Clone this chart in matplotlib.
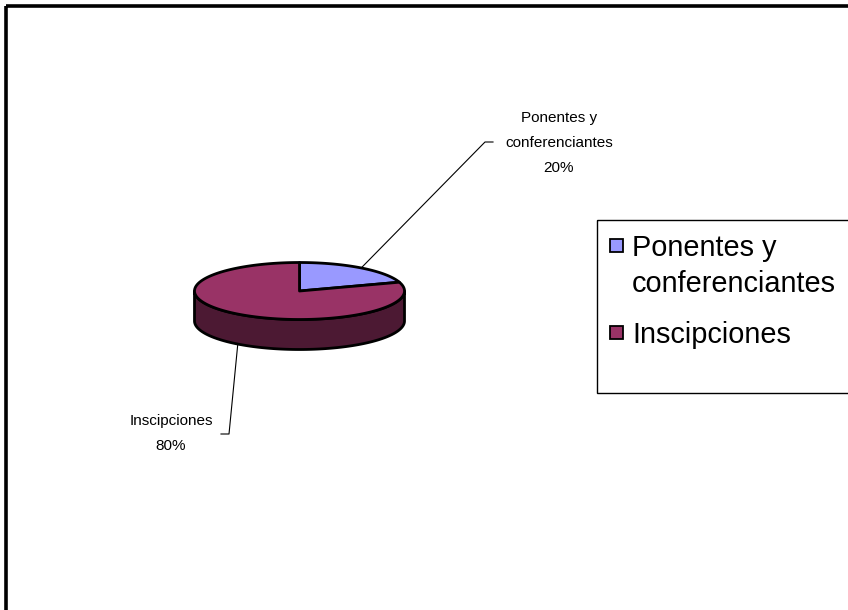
import numpy as np
import matplotlib
matplotlib.use("Agg")
import matplotlib.pyplot as plt
from matplotlib.patches import Polygon, Rectangle

# ---- data ----
categories = ["Ponentes y\nconferenciantes", "Inscipciones"]
values = [20, 80]
colors = ["#9999FF", "#993366"]
side_colors = ["#4C4C80", "#4C1933"]

plt.rcParams['font.family'] = ['Liberation Sans', 'DejaVu Sans']

W, H = 848, 610
fig = plt.figure(figsize=(W / 100, H / 100), dpi=100)
ax = fig.add_axes([0, 0, 1, 1])
ax.set_xlim(0, W)
ax.set_ylim(H, 0)
ax.axis('off')

# outer chart border (extends beyond the image)
ax.add_patch(Rectangle((6, 6), 1000, 1000, fill=False, ec='black', lw=2.6, zorder=1))

# ---- 3D pie geometry (layout) ----
cx, cy, a, b, depth = 299.5, 291.0, 105.0, 28.5, 30.0
lw = 2.0

def pt(t, dy=0.0):
    r = np.deg2rad(t)
    return cx + a * np.cos(r), cy - b * np.sin(r) + dy

total = float(sum(values))
starts, ends = [], []
ang = 90.0
for v in values:
    sweep = 360.0 * v / total
    starts.append(ang)
    ends.append(ang - sweep)
    ang -= sweep

# side walls (front half: angles where sin < 0)
for s, e, sc in zip(starts, ends, side_colors):
    for off in (-720, -360, 0, 360):
        lo = max(e, -180 + off)
        hi = min(s, 0 + off)
        if hi - lo > 1e-6:
            ts = np.linspace(lo, hi, 120)
            top = [pt(t) for t in ts]
            bot = [pt(t, depth) for t in ts[::-1]]
            ax.add_patch(Polygon(top + bot, closed=True, fc=sc, ec='black', lw=lw,
                                 joinstyle='round', zorder=2))

# top face wedges
for s, e, c in zip(starts, ends, colors):
    ts = np.linspace(s, e, 300)
    pts = [(cx, cy)] + [pt(t) for t in ts]
    ax.add_patch(Polygon(pts, closed=True, fc=c, ec='black', lw=lw,
                         joinstyle='round', zorder=3))

# ---- data labels with leader lines ----
label_pos = [(559, 143), (171, 433)]
leader_end = [(485, 142), (229, 434)]
leader_tick = [(493, 142), (221, 434)]
for i, (cat, v) in enumerate(zip(categories, values)):
    mid = (starts[i] + ends[i]) / 2.0
    x0, y0 = pt(mid)
    if np.sin(np.deg2rad(mid)) < 0:
        y0 += depth
    ex, ey = leader_end[i]
    tx, ty = leader_tick[i]
    ax.plot([x0, ex, tx], [y0, ey, ty], color='black', lw=0.8, zorder=4)
    ax.text(label_pos[i][0], label_pos[i][1], f"{cat}\n{v}%", ha='center', va='center',
            multialignment='center', fontsize=11, linespacing=2.0, zorder=5)

# ---- legend ----
ax.add_patch(Rectangle((597, 220), 400, 173, fill=False, ec='black', lw=1.0, zorder=1))
leg_y = [245, 332]
for cat, c, y in zip(categories, colors, leg_y):
    ax.add_patch(Rectangle((610, y - 6.5), 13, 13, fc=c, ec='black', lw=1.3, zorder=5))
    ax.text(632, y - 11, cat, ha='left', va='top', fontsize=20.8, linespacing=1.36, zorder=5)

fig.savefig("out.png", dpi=100)
